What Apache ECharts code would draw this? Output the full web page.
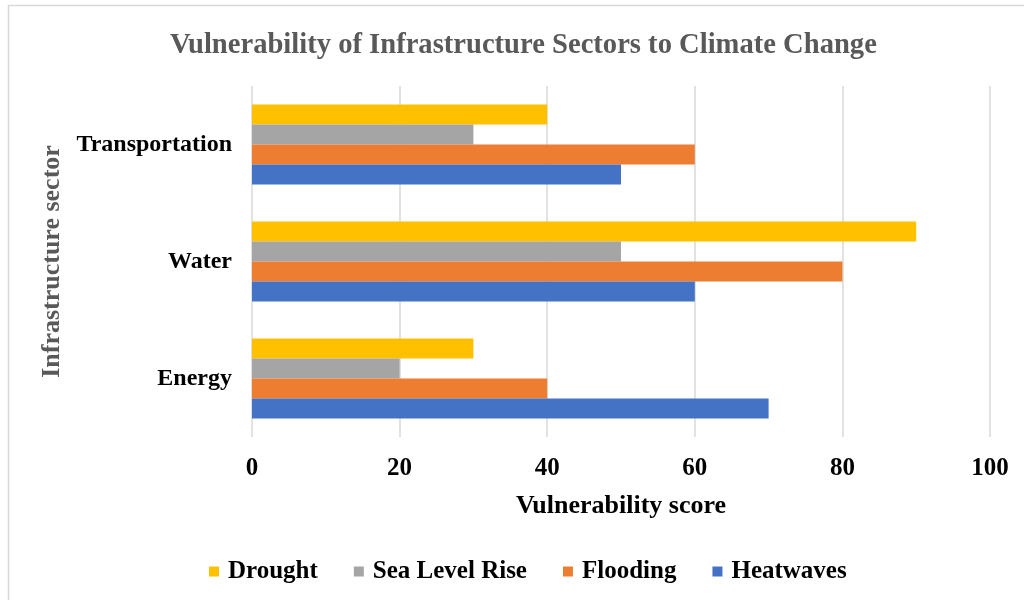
<!DOCTYPE html>
<html><head><meta charset="utf-8">
<script src="https://cdn.jsdelivr.net/npm/echarts@6/dist/echarts.min.js"></script>
<style>html,body{margin:0;padding:0;background:#fff}#c{width:1024px;height:600px}</style>
</head><body><div id="c"></div>
<script>
const categories = ['Energy', 'Water', 'Transportation'];
const heatwaves = [70, 60, 50];
const flooding = [40, 80, 60];
const seaLevelRise = [20, 50, 30];
const drought = [30, 90, 40];
const xTicks = [0, 20, 40, 60, 80, 100];

const serif = '"Liberation Serif", "Times New Roman", serif';
const chart = echarts.init(document.getElementById('c'), null, {renderer: 'canvas'});
function bar(name, data, color) {
  return {name, type: 'bar', data, barWidth: 20, barGap: '0%', itemStyle: {color}};
}
chart.setOption({
  animation: false,
  backgroundColor: '#fff',
  graphic: [{type: 'rect', shape: {x: 8.5, y: 5.5, width: 1100, height: 700}, style: {fill: 'none', stroke: '#d9d9d9', lineWidth: 1.5}, silent: true}],
  title: {text: 'Vulnerability of Infrastructure Sectors to Climate Change', left: 165, top: 26,
    textStyle: {fontFamily: serif, fontWeight: 'bold', fontSize: 28.6, color: '#595959'}},
  legend: {
    data: ['Drought', 'Sea Level Rise', 'Flooding', 'Heatwaves'],
    bottom: 11, left: 204, itemWidth: 10, itemHeight: 10, itemGap: 36, icon: 'rect',
    textStyle: {fontFamily: serif, fontWeight: 'bold', fontSize: 25, color: '#000', padding: [0, 0, 0, 4]}
  },
  grid: {left: 252, right: 34, top: 86, bottom: 163, containLabel: false},
  xAxis: {type: 'value', min: xTicks[0], max: xTicks[xTicks.length - 1], interval: 20,
    axisLine: {show: false}, axisTick: {show: false},
    splitLine: {lineStyle: {color: '#d9d9d9', width: 1.5}},
    axisLabel: {fontFamily: serif, fontWeight: 'bold', fontSize: 25, color: '#000', margin: 19},
    name: 'Vulnerability score', nameLocation: 'middle', nameGap: 56,
    nameTextStyle: {fontFamily: serif, fontWeight: 'bold', fontSize: 26, color: '#000'}},
  yAxis: {type: 'category', data: categories,
    axisLine: {show: false}, axisTick: {show: false},
    axisLabel: {fontFamily: serif, fontWeight: 'bold', fontSize: 24, color: '#000', margin: 20},
    name: 'Infrastructure sector', nameLocation: 'middle', nameGap: 184, nameRotate: 90,
    nameTextStyle: {fontFamily: serif, fontWeight: 'bold', fontSize: 26, color: '#595959'}},
  series: [
    bar('Drought', drought, '#FFC000'),
    bar('Sea Level Rise', seaLevelRise, '#A5A5A5'),
    bar('Flooding', flooding, '#ED7D31'),
    bar('Heatwaves', heatwaves, '#4472C4')
  ]
});
</script></body></html>
